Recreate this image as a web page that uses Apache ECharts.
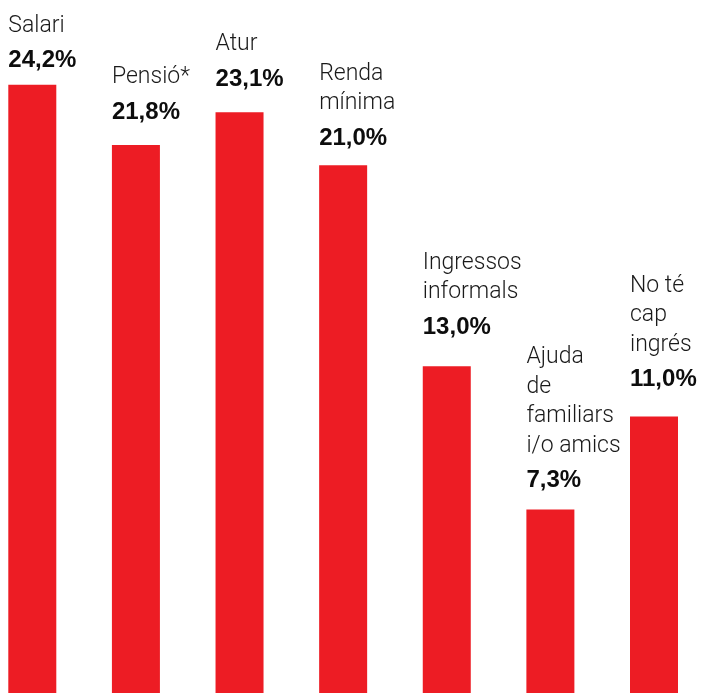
<!DOCTYPE html>
<html>
<head>
<meta charset="utf-8">
<script src="https://cdn.jsdelivr.net/npm/echarts@6/dist/echarts.min.js"></script>
<style>
html,body{margin:0;padding:0;background:#fff;}
#chart{width:713px;height:693px;}
</style>
</head>
<body>
<div id="chart"></div>
<script>
// ---- data ----
const categories = ['Salari', 'Pensió*', 'Atur', 'Renda\nmínima', 'Ingressos\ninformals', 'Ajuda\nde\nfamiliars\ni/o amics', 'No té\ncap\ningrés'];
const values = [24.2, 21.8, 23.1, 21.0, 13.0, 7.3, 11.0];
const valueLabels = ['24,2%', '21,8%', '23,1%', '21,0%', '13,0%', '7,3%', '11,0%'];

// ---- chart ----
const labelLift = [4, 13, 13, 7, 19, 9, 17];
const chart = echarts.init(document.getElementById('chart'), null, {renderer: 'canvas'});
const option = {
  animation: false,
  backgroundColor: '#ffffff',
  grid: {left: 32.3, right: 59, top: 0, bottom: -2, containLabel: false},
  xAxis: {
    type: 'category',
    data: categories,
    boundaryGap: false,
    show: false
  },
  yAxis: {
    type: 'value',
    min: 0,
    max: 27.57,
    show: false
  },
  series: [{
    type: 'bar',
    barWidth: 48,
    clip: false,
    itemStyle: {color: '#ED1C24'},
    data: values.map((v, i) => ({
      value: v,
      label: {
        show: true,
        position: [0, -labelLift[i]],
        align: 'left',
        verticalAlign: 'bottom',
        formatter: () => '{n|' + categories[i].split('\n').join('}\n{n|') + '}\n{v|' + valueLabels[i] + '}',
        rich: {
          n: {fontFamily: 'Roboto', fontSize: 23, fontWeight: 300, color: '#1a1a1a', lineHeight: 29.4},
          v: {fontFamily: 'Liberation Sans', fontSize: 24, fontWeight: 'bold', color: '#0d0d0d', lineHeight: 40}
        }
      }
    }))
  }]
};
chart.setOption(option);
</script>
</body>
</html>
